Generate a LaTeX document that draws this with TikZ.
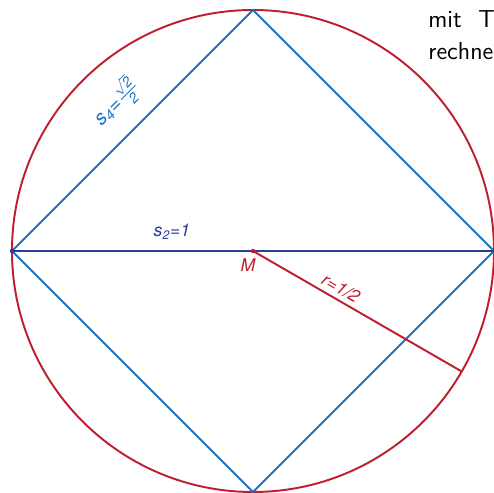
\documentclass[tikz,border=0pt]{standalone}
\usepackage{amsmath}
\usepackage{fontspec}
\usetikzlibrary{calc}
\newfontfamily\heros{TeX Gyre Heros}
\newcommand\hv[1]{\text{\heros\itshape #1}}
\definecolor{kreisrot}{HTML}{BE1E2D}
\definecolor{quadblau}{HTML}{1A74C4}
\definecolor{navy}{HTML}{2B3E96}
\begin{document}
\begin{tikzpicture}[x=0.02cm,y=0.02cm,font=\sffamily,
  linie/.style={line width=1.1pt},
  lab/.style={font=\heros\itshape\fontsize{10}{12}\selectfont,inner sep=1pt},
  kopf/.style={anchor=base west,inner sep=0pt,font=\sffamily\fontsize{14}{18}\selectfont}]
\useasboundingbox (-253,-242) rectangle (241,251);
\clip (-253,-242) rectangle (241,251);
\coordinate (M) at (0,0);
\coordinate (A) at (-241,0);
\coordinate (B) at (0,241);
\coordinate (C) at (241,0);
\coordinate (D) at (0,-241);
\coordinate (P) at (-30:241);
% Kreis und Radius
\draw[kreisrot,linie] (M) circle (241);
\draw[quadblau,linie] (A)--(B)--(C)--(D)--cycle;
\draw[navy,linie] (A)--(C);
\draw[kreisrot,linie] (M)--(P);
\fill[kreisrot] (M) circle (2.2);
\fill[navy] (A) circle (2.2);
% Beschriftung
\node[lab,quadblau,rotate=45,font=\heros\itshape\fontsize{11.5}{13}\selectfont] (s4) at (-137,149) {s\textsubscript{4}=$\frac{\sqrt{\hv{2}}}{\hv{2}}$};
\node[lab,navy] (s2) at (-81,19) {s\textsubscript{2}=1};
\node[lab,kreisrot] (lM) at (-5,-14) {M};
\node[lab,kreisrot,rotate=-30] (lr) at (88,-37) {r=1/2};
\node[kopf] (txt1) at (175,223) {mit\hspace{9.5pt}Taschen-};
\node[kopf] (txt2) at (175,191) {rechnen};
\end{tikzpicture}
\end{document}
